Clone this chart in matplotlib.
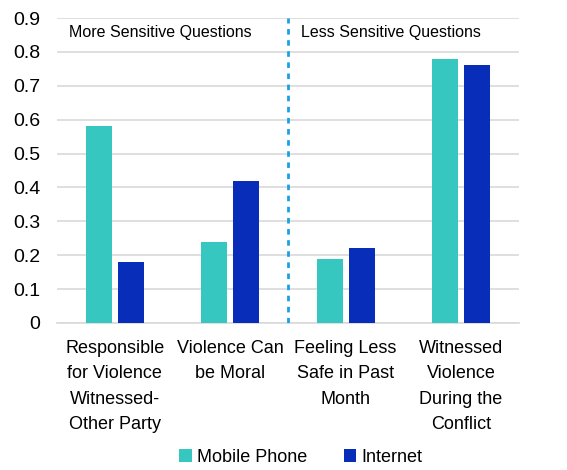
import matplotlib
matplotlib.use("Agg")
import matplotlib.pyplot as plt
import numpy as np

plt.rcParams['font.family'] = ['Liberation Sans', 'DejaVu Sans']

# -------- Data --------
categories = ['Responsible\nfor Violence\nWitnessed-\nOther Party',
              'Violence Can\nbe Moral',
              'Feeling Less\nSafe in Past\nMonth',
              'Witnessed\nViolence\nDuring the\nConflict']
mobile_phone = [0.58, 0.24, 0.19, 0.78]
internet = [0.18, 0.42, 0.22, 0.76]
yticks = [0, 0.1, 0.2, 0.3, 0.4, 0.5, 0.6, 0.7, 0.8, 0.9]
ytick_labels = ['0', '0.1', '0.2', '0.3', '0.4', '0.5', '0.6', '0.7', '0.8', '0.9']

teal = '#36C8C0'
blue = '#082DB8'

fig = plt.figure(figsize=(5.67, 4.70), dpi=100)
ax = fig.add_axes([0.1005, 0.3128, 0.8145, 0.6489])

x = np.arange(len(categories))
w = 0.225
off = 0.139
ax.bar(x - off, mobile_phone, w, color=teal, label='Mobile Phone', zorder=3)
ax.bar(x + off, internet, w, color=blue, label='Internet', zorder=3)

ax.set_xlim(-0.5, 3.5)
ax.set_ylim(0, 0.9)
ax.set_yticks(yticks)
ax.set_yticklabels(ytick_labels, fontsize=14)
ax.set_xticks(x)
ax.set_xticklabels(categories, fontsize=13, linespacing=1.66, va='top')
ax.tick_params(axis='both', length=0)
ax.tick_params(axis='y', pad=12)
ax.tick_params(axis='x', pad=12)

ax.grid(axis='y', color='#D9D9D9', linewidth=1.2, zorder=0)
for s in ['top', 'right', 'left']:
    ax.spines[s].set_visible(False)
ax.spines['bottom'].set_color('#D9D9D9')
ax.spines['bottom'].set_linewidth(1.2)

# divider between question groups
ax.axvline(1.5, color='#1BA1E2', linestyle=(0, (2, 2)), linewidth=2, zorder=4)
ax.text(0.025, 0.951, 'More Sensitive Questions', transform=ax.transAxes, fontsize=11.5, va='center')
ax.text(0.529, 0.951, 'Less Sensitive Questions', transform=ax.transAxes, fontsize=11.5, va='center')

fig.legend(loc='center', bbox_to_anchor=(0.531, 0.027), ncol=2, frameon=False, fontsize=13,
           handlelength=0.7, handleheight=0.7, handletextpad=0.3, columnspacing=2.0)

fig.savefig('out.png', dpi=100)
